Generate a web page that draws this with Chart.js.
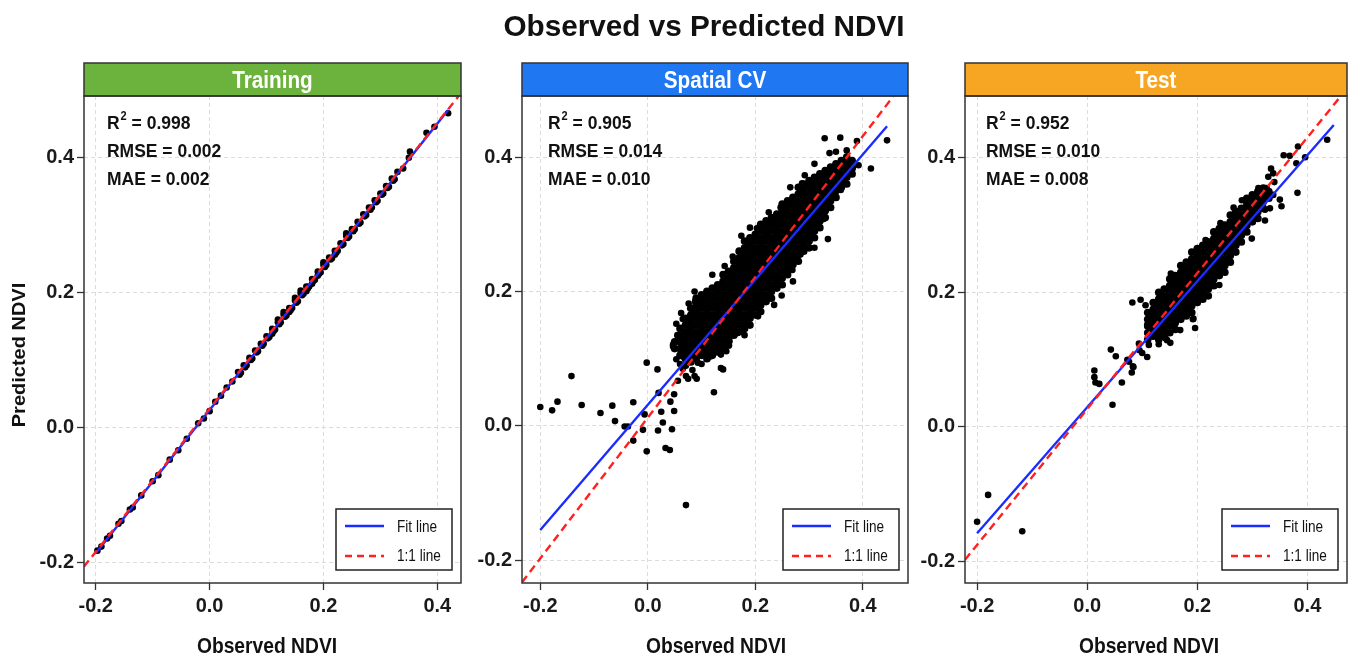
<!DOCTYPE html>
<html><head><meta charset="utf-8">
<script src="https://cdn.jsdelivr.net/npm/chart.js@4.4.1/dist/chart.umd.min.js"></script>
<style>
html,body{margin:0;padding:0;background:#fff;width:1351px;height:659px;overflow:hidden}
canvas{position:absolute;left:0;top:0}
</style></head><body>
<canvas id="c1" width="1351" height="659"></canvas>
<canvas id="c2" width="1351" height="659"></canvas>
<canvas id="c3" width="1351" height="659"></canvas>
<script>
// ---------------- data ----------------
const chartTitle = 'Observed vs Predicted NDVI';
const panelNames = ['Training', 'Spatial CV', 'Test'];
const xAxisTitle = 'Observed NDVI';
const yAxisTitle = 'Predicted NDVI';
const tickValues = [-0.2, 0.0, 0.2, 0.4];
const r2Values = ['0.998', '0.905', '0.952'];
const rmseValues = ['0.002', '0.014', '0.010'];
const maeValues = ['0.002', '0.010', '0.008'];
const legendLabels = ['Fit line', '1:1 line'];

const trainPoints = [
 [-0.197,-0.183],[-0.19,-0.177],[-0.18,-0.165],[-0.175,-0.161],[-0.16,-0.143],[-0.155,-0.139],
 [-0.14,-0.122],[-0.135,-0.119],[-0.12,-0.101],[-0.10,-0.080],[-0.09,-0.071],[-0.07,-0.048],
 [-0.055,-0.034],[-0.04,-0.017],[-0.02,0.006],[-0.01,0.013],[0.0,0.024],[0.01,0.038],
 [0.02,0.047],[0.03,0.059],[0.04,0.068],
 [0.05,0.082],[0.055,0.081],[0.06,0.092],[0.065,0.092],[0.07,0.103],[0.075,0.102],
 [0.08,0.114],[0.085,0.113],[0.09,0.124],[0.095,0.124],[0.10,0.135],[0.105,0.134],
 [0.11,0.146],[0.115,0.145],[0.12,0.156],[0.125,0.156],[0.13,0.167],[0.135,0.166],
 [0.14,0.177],[0.145,0.177],[0.15,0.188],[0.155,0.187],[0.16,0.199],[0.165,0.198],
 [0.17,0.209],[0.175,0.209],[0.18,0.220],[0.185,0.219],[0.19,0.231],[0.195,0.230],
 [0.20,0.241],[0.205,0.241],[0.21,0.252],[0.215,0.251],[0.22,0.262],[0.225,0.262],
 [0.23,0.273],[0.235,0.272],[0.24,0.284],[0.245,0.283],[0.25,0.294],[0.255,0.294],
 [0.26,0.305],[0.265,0.304],[0.27,0.316],[0.275,0.315],[0.28,0.326],[0.285,0.326],
 [0.29,0.337],[0.295,0.336],[0.30,0.347],[0.305,0.347],[0.31,0.358],[0.315,0.357],
 [0.32,0.369],[0.325,0.368],[0.33,0.379],[0.34,0.384],[0.35,0.400],[0.352,0.409],
 [0.381,0.437],[0.395,0.446],[0.419,0.466],
 [0.12,0.160],[0.13,0.171],[0.14,0.171],[0.16,0.203],[0.17,0.202],[0.18,0.213],
 [0.20,0.245],[0.22,0.256],[0.24,0.288],[0.11,0.139],[0.15,0.192],[0.19,0.225],
 [0.0525,0.078],[0.0625,0.089],[0.0725,0.100],[0.0825,0.111],[0.0925,0.121],[0.1025,0.132],
 [0.1125,0.143],[0.1225,0.153],[0.1325,0.164],[0.1425,0.174],[0.1525,0.185],[0.1625,0.196],
 [0.1725,0.206],[0.1825,0.217],[0.1925,0.228],[0.2025,0.238],[0.2125,0.249],[0.2225,0.259],
 [0.2325,0.270],[0.2425,0.281],[0.2525,0.291],[0.2625,0.302],[0.2725,0.313],[0.2825,0.323],
 [0.2925,0.334],[0.3025,0.345],[0.3125,0.355],[0.3225,0.366]
];

const cvColumns = [
 [0.05,[0.115,0.125]],
 [0.06,[0.105,0.115,0.125,0.135,0.145]],
 [0.07,[0.09,0.10,0.11,0.12,0.13,0.14,0.15,0.16]],
 [0.08,[0.095,0.105,0.115,0.125,0.135,0.145,0.155,0.165,0.175]],
 [0.09,[0.10,0.11,0.12,0.13,0.14,0.15,0.16,0.17,0.18,0.19]],
 [0.10,[0.105,0.115,0.125,0.135,0.145,0.155,0.165,0.175,0.185,0.195]],
 [0.11,[0.10,0.11,0.12,0.13,0.14,0.15,0.16,0.17,0.18,0.19,0.20]],
 [0.12,[0.105,0.115,0.125,0.135,0.145,0.155,0.165,0.175,0.185,0.195,0.205]],
 [0.13,[0.11,0.12,0.13,0.14,0.15,0.16,0.17,0.18,0.19,0.20,0.21]],
 [0.14,[0.115,0.125,0.135,0.145,0.155,0.165,0.175,0.185,0.195,0.205,0.215,0.225]],
 [0.15,[0.12,0.13,0.14,0.15,0.16,0.17,0.18,0.19,0.20,0.21,0.22,0.23]],
 [0.16,[0.135,0.145,0.155,0.165,0.175,0.185,0.195,0.205,0.215,0.225,0.235,0.245]],
 [0.17,[0.14,0.15,0.16,0.17,0.18,0.19,0.20,0.21,0.22,0.23,0.24,0.25,0.26]],
 [0.18,[0.145,0.155,0.165,0.175,0.185,0.195,0.205,0.215,0.225,0.235,0.245,0.255,0.265,0.275]],
 [0.19,[0.15,0.16,0.17,0.18,0.19,0.20,0.21,0.22,0.23,0.24,0.25,0.26,0.27,0.28]],
 [0.20,[0.165,0.175,0.185,0.195,0.205,0.215,0.225,0.235,0.245,0.255,0.265,0.275,0.285]],
 [0.21,[0.17,0.18,0.19,0.20,0.21,0.22,0.23,0.24,0.25,0.26,0.27,0.28,0.29,0.30]],
 [0.22,[0.185,0.195,0.205,0.215,0.225,0.235,0.245,0.255,0.265,0.275,0.285,0.295,0.305]],
 [0.23,[0.19,0.20,0.21,0.22,0.23,0.24,0.25,0.26,0.27,0.28,0.29,0.30,0.31]],
 [0.24,[0.205,0.215,0.225,0.235,0.245,0.255,0.265,0.275,0.285,0.295,0.305,0.315]],
 [0.25,[0.21,0.22,0.23,0.24,0.25,0.26,0.27,0.28,0.29,0.30,0.31,0.32,0.33]],
 [0.26,[0.225,0.235,0.245,0.255,0.265,0.275,0.285,0.295,0.305,0.315,0.325,0.335]],
 [0.27,[0.24,0.25,0.26,0.27,0.28,0.29,0.30,0.31,0.32,0.33,0.34]],
 [0.28,[0.245,0.255,0.265,0.275,0.285,0.295,0.305,0.315,0.325,0.335,0.345,0.355]],
 [0.29,[0.26,0.27,0.28,0.29,0.30,0.31,0.32,0.33,0.34,0.35,0.36]],
 [0.30,[0.265,0.275,0.285,0.295,0.305,0.315,0.325,0.335,0.345,0.355,0.365]],
 [0.31,[0.28,0.29,0.30,0.31,0.32,0.33,0.34,0.35,0.36,0.37]],
 [0.32,[0.295,0.305,0.315,0.325,0.335,0.345,0.355,0.365,0.375]],
 [0.33,[0.31,0.32,0.33,0.34,0.35,0.36,0.37,0.38]],
 [0.34,[0.325,0.335,0.345,0.355,0.365,0.375,0.385]],
 [0.35,[0.34,0.35,0.36,0.37,0.38,0.39]],
 [0.36,[0.355,0.365,0.375,0.385,0.395]],
 [0.37,[0.36,0.37,0.38,0.39,0.40]],
 [0.38,[0.375,0.385,0.395]]
];
const cvOutliers = [
 [-0.2,0.028],[-0.178,0.023],[-0.168,0.036],[-0.142,0.074],[-0.123,0.031],[-0.088,0.019],
 [-0.066,0.030],[-0.061,0.007],[-0.043,-0.001],[-0.037,-0.001],[-0.027,0.035],[-0.027,-0.022],
 [-0.006,0.017],[-0.009,-0.006],[-0.002,-0.038],[-0.002,0.094],[0.018,0.084],[0.020,0.049],
 [0.019,-0.007],[0.025,0.021],[0.028,0.005],[0.033,-0.033],[0.041,-0.036],[0.042,0.036],
 [0.045,-0.005],[0.049,0.022],[0.049,0.047],[0.071,-0.118],[0.075,0.070],[0.091,0.070],
 [0.123,0.050],[0.140,0.084],[0.100,0.092],[0.056,0.067],[0.055,0.135],[0.047,0.121],
 [0.152,0.126],[0.146,0.111],[0.136,0.106],[0.093,0.094],[0.115,0.103],[0.074,0.118],
 [0.071,0.099],[0.065,0.085],[0.083,0.083],
 [0.329,0.428],[0.358,0.429],[0.389,0.424],[0.445,0.425],[0.415,0.383],[0.381,0.383],
 [0.338,0.406],[0.350,0.408],[0.292,0.373],[0.287,0.361],[0.359,0.351],[0.335,0.278],
 [0.327,0.308],[0.284,0.255],[0.249,0.194],[0.269,0.232],[0.247,0.325],[0.203,0.294],
 [0.174,0.283],[0.158,0.252],[0.143,0.238],[0.087,0.200],[0.088,0.185],[0.084,0.170],
 [0.053,0.152],[0.065,0.159],[0.047,0.118],[0.056,0.133],[0.053,0.099],[0.136,0.086],
 [0.167,0.138],[0.205,0.163],[0.071,0.074],[0.087,0.074],[0.304,0.284],[0.341,0.344],
 [0.322,0.308],[0.392,0.388],[0.370,0.410],[0.310,0.390],[0.265,0.355],[0.225,0.318],
 [0.190,0.295],[0.120,0.225],[0.235,0.180],[0.180,0.135],[0.270,0.215],[0.310,0.265],
 [0.062,0.168],[0.076,0.182],[0.066,0.103],[0.060,0.092]
];

const testColumns = [
 [0.11,[0.13,0.14,0.15,0.16,0.17]],
 [0.12,[0.135,0.145,0.155,0.165,0.175,0.185]],
 [0.13,[0.13,0.14,0.15,0.16,0.17,0.18,0.19,0.20]],
 [0.14,[0.135,0.145,0.155,0.165,0.175,0.185,0.195,0.205]],
 [0.15,[0.14,0.15,0.16,0.17,0.18,0.19,0.20,0.21,0.22]],
 [0.16,[0.145,0.155,0.165,0.175,0.185,0.195,0.205,0.215,0.225]],
 [0.17,[0.16,0.17,0.18,0.19,0.20,0.21,0.22,0.23,0.24]],
 [0.18,[0.165,0.175,0.185,0.195,0.205,0.215,0.225,0.235,0.245]],
 [0.19,[0.17,0.18,0.19,0.20,0.21,0.22,0.23,0.24,0.25,0.26]],
 [0.20,[0.185,0.195,0.205,0.215,0.225,0.235,0.245,0.255,0.265]],
 [0.21,[0.19,0.20,0.21,0.22,0.23,0.24,0.25,0.26,0.27]],
 [0.22,[0.195,0.205,0.215,0.225,0.235,0.245,0.255,0.265,0.275]],
 [0.23,[0.21,0.22,0.23,0.24,0.25,0.26,0.27,0.28,0.29]],
 [0.24,[0.225,0.235,0.245,0.255,0.265,0.275,0.285,0.295]],
 [0.25,[0.23,0.24,0.25,0.26,0.27,0.28,0.29,0.30]],
 [0.26,[0.245,0.255,0.265,0.275,0.285,0.295,0.305,0.315]],
 [0.27,[0.26,0.27,0.28,0.29,0.30,0.31,0.32]],
 [0.28,[0.275,0.285,0.295,0.305,0.315,0.325]],
 [0.29,[0.29,0.30,0.31,0.32,0.33,0.34]],
 [0.30,[0.305,0.315,0.325,0.335,0.345]],
 [0.31,[0.31,0.32,0.33,0.34,0.35]],
 [0.32,[0.325,0.335,0.345,0.355]],
 [0.33,[0.34,0.35]]
];
const testOutliers = [
 [-0.2,-0.141],[-0.180,-0.101],[-0.118,-0.155],[0.013,0.084],[0.013,0.074],[0.015,0.066],
 [0.022,0.064],[0.046,0.033],[0.063,0.066],[0.081,0.081],[0.083,0.090],[0.076,0.097],
 [0.043,0.115],[0.052,0.105],[0.082,0.185],[0.097,0.189],[0.106,0.181],[0.084,0.089],
 [0.095,0.114],[0.109,0.104],[0.130,0.123],[0.145,0.129],[0.169,0.144],[0.196,0.147],
 [0.192,0.160],[0.152,0.228],[0.161,0.213],[0.230,0.210],[0.240,0.211],[0.215,0.278],
 [0.242,0.303],[0.266,0.326],[0.281,0.337],[0.299,0.280],[0.323,0.307],[0.332,0.325],
 [0.311,0.355],[0.326,0.355],[0.350,0.338],[0.353,0.328],[0.323,0.323],[0.338,0.345],
 [0.334,0.384],[0.338,0.377],[0.329,0.372],[0.340,0.364],[0.317,0.352],[0.382,0.348],
 [0.357,0.404],[0.368,0.403],[0.383,0.417],[0.380,0.392],[0.396,0.401],[0.436,0.427],
 [0.073,0.100],[0.100,0.110],[0.094,0.124],[0.112,0.122],[0.109,0.152],[0.130,0.132],
 [0.151,0.125],[0.142,0.132],[0.193,0.161]
];

const fitLines = [
 [[-0.2,-0.187],[0.419,0.471]],
 [[-0.2,-0.155],[0.445,0.446]],
 [[-0.2,-0.158],[0.448,0.449]]
];
const oneToOneLines = [
 [[-0.221,-0.207],[0.437,0.491]],
 [[-0.234,-0.233],[0.457,0.491]],
 [[-0.222,-0.1975],[0.461,0.492]]
];

// ---------------- layout / style ----------------
const FONT = '"Liberation Sans", Arial, Helvetica, sans-serif';
const stripColors = ['#6cb33e', '#1f78f2', '#f6a623'];
const panels = [
 {id:'c1', left:84,  right:461,  yAxisW:84, xMin:-0.2206, xMax:0.4416, yMin:-0.231, yMax:0.4916, annX:107, xTitleX:267},
 {id:'c2', left:522, right:908,  yAxisW:50, xMin:-0.234,  xMax:0.484,  yMin:-0.234, yMax:0.491,  annX:548, xTitleX:716},
 {id:'c3', left:965, right:1349, yAxisW:50, xMin:-0.222,  xMax:0.472,  yMin:-0.232, yMax:0.492,  annX:986, xTitleX:1149}
];
const W = 1351, H = 659, PLOT_TOP = 96, PLOT_BOTTOM = 583, STRIP_TOP = 63;

const toXY = arr => arr.map(([x, y]) => ({x, y}));
const expandColumns = cols => cols.flatMap(([x, ys]) => ys.map(y => ({x, y})));
const sparseSets = [toXY(trainPoints), toXY(cvOutliers), toXY(testOutliers)];
const coreSets = [[], expandColumns(cvColumns), expandColumns(testColumns)];

function txt(ctx, s, x, y, font, color, align, sx) {
  ctx.save();
  ctx.font = font; ctx.fillStyle = color; ctx.textAlign = align; ctx.textBaseline = 'alphabetic';
  ctx.translate(x, y); ctx.scale(sx, 1);
  ctx.fillText(s, 0, 0);
  ctx.restore();
}

const decor = {
  id: 'decor',
  afterDraw(chart, args, opts) {
    const i = opts.index, p = panels[i], a = chart.chartArea, ctx = chart.ctx;
    ctx.save();
    ctx.fillStyle = stripColors[i];
    ctx.fillRect(a.left, STRIP_TOP, a.right - a.left, a.top - STRIP_TOP);
    ctx.strokeStyle = '#333'; ctx.lineWidth = 1.5;
    ctx.strokeRect(a.left, STRIP_TOP, a.right - a.left, a.top - STRIP_TOP);
    txt(ctx, panelNames[i], (a.left + a.right) / 2, 87.5, 'bold 23px ' + FONT, '#fff', 'center', 0.9);
    ctx.strokeRect(a.left, a.top, a.right - a.left, a.bottom - a.top);
    const sx = 0.92, bf = 'bold 19px ' + FONT;
    ctx.font = bf;
    const wR = ctx.measureText('R').width * sx;
    txt(ctx, 'R', p.annX, 128.5, bf, '#111', 'left', sx);
    ctx.font = 'bold 12px ' + FONT;
    const w2 = ctx.measureText('2').width * sx;
    txt(ctx, '2', p.annX + wR + 1, 120, 'bold 12px ' + FONT, '#111', 'left', sx);
    txt(ctx, ' = ' + r2Values[i], p.annX + wR + w2 + 1, 128.5, bf, '#111', 'left', sx);
    txt(ctx, 'RMSE = ' + rmseValues[i], p.annX, 156.7, bf, '#111', 'left', sx);
    txt(ctx, 'MAE = ' + maeValues[i], p.annX, 185, bf, '#111', 'left', sx);
    const bw = 116, bh = 61;
    const bx = a.right - 9 - bw, by = a.bottom - 13 - bh;
    ctx.fillStyle = '#fff'; ctx.fillRect(bx, by, bw, bh);
    ctx.strokeStyle = '#222'; ctx.lineWidth = 1.5; ctx.strokeRect(bx, by, bw, bh);
    ctx.lineWidth = 2.4;
    ctx.strokeStyle = '#1a2cff'; ctx.setLineDash([]);
    ctx.beginPath(); ctx.moveTo(bx + 9, by + 17); ctx.lineTo(bx + 48, by + 17); ctx.stroke();
    ctx.strokeStyle = '#ff2020'; ctx.setLineDash([7, 5]);
    ctx.beginPath(); ctx.moveTo(bx + 9, by + 47); ctx.lineTo(bx + 48, by + 47); ctx.stroke();
    ctx.setLineDash([]);
    txt(ctx, legendLabels[0], bx + 61, by + 23.3, '17px ' + FONT, '#111', 'left', 0.8);
    txt(ctx, legendLabels[1], bx + 61, by + 51.5, '17px ' + FONT, '#111', 'left', 0.8);
    txt(ctx, xAxisTitle, p.xTitleX, 653, 'bold 22px ' + FONT, '#111', 'center', 0.875);
    if (i === 0) {
      ctx.save();
      ctx.translate(20, 355); ctx.scale(0.88, 1); ctx.rotate(-Math.PI / 2);
      ctx.font = 'bold 20px ' + FONT; ctx.fillStyle = '#111'; ctx.textAlign = 'center'; ctx.textBaseline = 'middle';
      ctx.fillText(yAxisTitle, 0, 0);
      ctx.restore();
      txt(ctx, chartTitle, 704, 36, 'bold 30px ' + FONT, '#111', 'center', 0.99);
    }
    ctx.restore();
  }
};

panels.forEach((p, i) => {
  const axisCommon = {
    type: 'linear',
    afterBuildTicks: s => { s.ticks = tickValues.map(v => ({value: v})); },
    ticks: { callback: v => Number(v).toFixed(1), font: {family: FONT, size: 20, weight: 'bold'}, color: '#1a1a1a', autoSkip: false, maxRotation: 0, padding: 4 },
    grid: { color: '#dcdcdc', lineWidth: 1, drawTicks: true, tickLength: 7, tickColor: '#333', tickWidth: 1.3, tickBorderDash: [] },
    border: { display: false, dash: [4, 3] }
  };
  new Chart(document.getElementById(p.id), {
    type: 'scatter',
    data: { datasets: [
      { label: legendLabels[1], data: toXY(oneToOneLines[i]), showLine: true, borderColor: '#ff2020', borderWidth: 2.4, borderDash: [8, 5], pointRadius: 0, order: 0 },
      { label: legendLabels[0], data: toXY(fitLines[i]), showLine: true, borderColor: '#1a2cff', borderWidth: 2.4, pointRadius: 0, order: 1 },
      { label: panelNames[i], data: sparseSets[i], backgroundColor: '#000', borderWidth: 0, pointRadius: 3.3, order: 2 },
      { label: panelNames[i] + ' (dense)', data: coreSets[i], backgroundColor: '#000', borderWidth: 0, pointRadius: 3.85, order: 3 }
    ]},
    options: {
      responsive: false, animation: false, devicePixelRatio: 1, events: [],
      layout: { padding: { left: p.left - p.yAxisW, right: W - p.right, top: PLOT_TOP, bottom: 0 } },
      plugins: { legend: { display: false }, tooltip: { enabled: false }, decor: { index: i } },
      scales: {
        x: Object.assign({}, axisCommon, { min: p.xMin, max: p.xMax, afterFit: s => { s.height = H - PLOT_BOTTOM; } }),
        y: Object.assign({}, axisCommon, { min: p.yMin, max: p.yMax, afterFit: s => { s.width = p.yAxisW; },
             ticks: Object.assign({}, axisCommon.ticks, { padding: 3 }) })
      }
    },
    plugins: [decor]
  });
});
</script>
</body></html>
